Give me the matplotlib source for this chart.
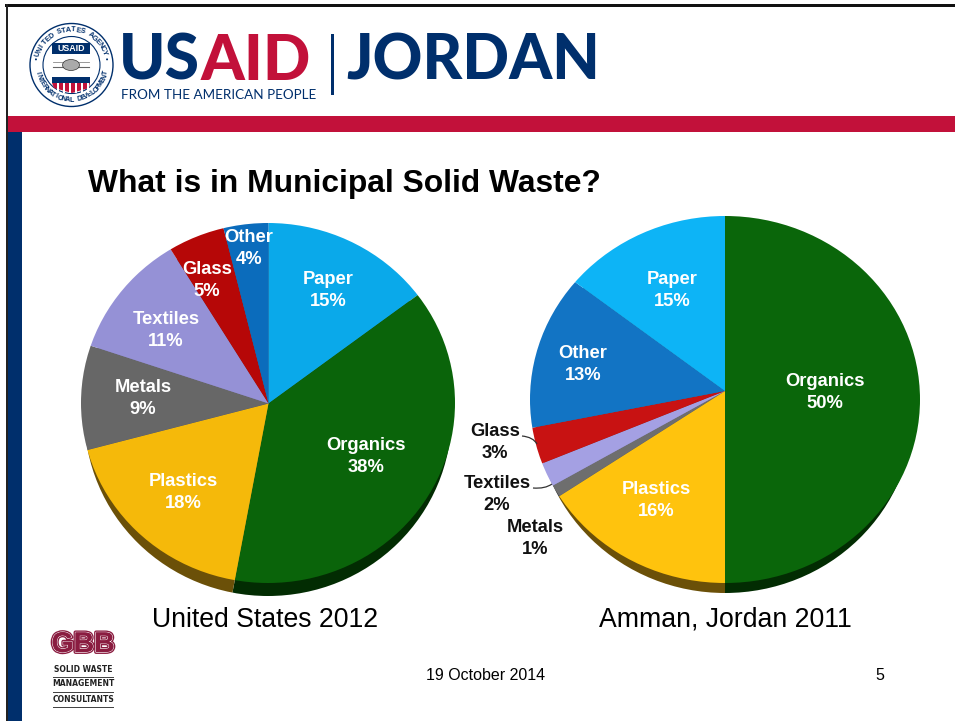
import numpy as np
import matplotlib
matplotlib.use("Agg")
import matplotlib.pyplot as plt
from matplotlib.patches import Rectangle, Circle, Ellipse, Polygon, PathPatch
from matplotlib.path import Path
import matplotlib.patheffects as pe

W, H = 955, 721
NAVY = "#002F6C"; RED = "#C2113A"; MAROON = "#8A1C40"

us_labels = ["Paper", "Organics", "Plastics", "Metals", "Textiles", "Glass", "Other"]
us_values = [15, 38, 18, 9, 11, 5, 4]
us_colors = ["#0AA9EA", "#0A640A", "#F5B90A", "#676767", "#9591D6", "#B60707", "#0B6CBC"]
us_shadow = ["#0A5E80", "#022C02", "#6B5008", "#333333", "#4A4870", "#5C0505", "#0B3B66"]

am_labels = ["Organics", "Plastics", "Metals", "Textiles", "Glass", "Other", "Paper"]
am_values = [50, 16, 1, 2, 3, 13, 15]
am_colors = ["#0A660A", "#FFC30D", "#6E6E6E", "#A4A0E3", "#C81212", "#1274C4", "#0DB4F6"]
am_shadow = ["#022C02", "#6B5008", "#333333", "#4A4870", "#5C0505", "#0B3B66", "#0A5E80"]

fig = plt.figure(figsize=(W/100, H/100), dpi=100, facecolor="white")
ax = fig.add_axes([0, 0, 1, 1])

def Y(y):
    return H - y

def pie_layer(values, colors, apex, xc, yc, rx, ry):
    """A pie seen in slight perspective: true angles round the apex, rim clipped to an ellipse."""
    clip = Ellipse((xc, Y(yc)), 2*rx, 2*ry, facecolor="none", edgecolor="none")
    ax.add_patch(clip)
    wedges, _ = ax.pie(values, colors=colors, startangle=90, counterclock=False,
                       center=(apex[0], Y(apex[1])), radius=rx*1.3, wedgeprops=dict(linewidth=0))
    for w in wedges:
        w.set_clip_on(True)
        w.set_clip_path(clip)

pie_layer(us_values, us_shadow, (268.5, 403.5), 268, 416, 183.6, 180)
pie_layer(us_values, us_colors, (268.5, 403.5), 268, 403, 187, 180)
pie_layer(am_values, am_shadow, (725, 391), 725, 409.5, 189, 183.5)
pie_layer(am_values, am_colors, (725, 391), 725, 399.5, 195, 183.5)

ax.set_xlim(0, W); ax.set_ylim(0, H); ax.set_aspect("auto"); ax.axis("off")

def rect(x0, y0, x1, y1, c, z=5):
    ax.add_patch(Rectangle((x0, Y(y1)), x1-x0, y1-y0, facecolor=c, edgecolor="none", zorder=z))

def txt(x, y, s, size, color="black", weight="normal", family="Liberation Sans", ha="center", va="center", **k):
    yy = y + 2 if va == "center" else y
    return ax.text(x, Y(yy), s, fontsize=size, color=color, fontweight=weight, family=family, ha=ha, va=va, zorder=10, **k)

# frame and bands
rect(5, 4, W, 6.5, "#111111")
rect(5.5, 4, 8, H, "#222222")
rect(8, 116, W, 132, RED)
rect(8, 132, 22, H, NAVY)

# header
txt(119, 80, "US", 45, NAVY, "black", "Lato", ha="left", va="baseline")
txt(201, 80, "AID", 45, RED, "black", "Lato", ha="left", va="baseline")
txt(121, 99, "FROM THE AMERICAN PEOPLE", 9.7, NAVY, "normal", "Lato", ha="left", va="baseline")
rect(331, 34, 333.5, 95, NAVY)
txt(346, 80, "JORDAN", 44.3, NAVY, "black", "Lato", ha="left", va="baseline")

# seal
sx, sy = 71.5, 65
for rad, fc, ec, lw in [(41.5, "white", NAVY, 1.0), (28.5, "white", NAVY, 0.8)]:
    ax.add_patch(Circle((sx, Y(sy)), rad, facecolor=fc, edgecolor=ec, linewidth=lw, zorder=6))

def ring(s, start, stop, rad, size):
    for ch, a in zip(s, np.linspace(start, stop, len(s))):
        t = np.deg2rad(a)
        rot = a - 90 if 0 <= a <= 180 else a + 90
        ax.text(sx + rad*np.cos(t), Y(sy) + rad*np.sin(t), ch, fontsize=size, color=NAVY, fontweight="bold",
                family="Liberation Sans", ha="center", va="center", rotation=rot, zorder=7)

ring("UNITED STATES AGENCY", 162, 20, 35, 5.2)
ring("INTERNATIONAL DEVELOPMENT", 193, 347, 35, 5.0)
for a in (171, 9):
    t = np.deg2rad(a)
    ax.add_patch(Circle((sx + 36*np.cos(t), Y(sy) + 36*np.sin(t)), 1, facecolor=NAVY, edgecolor="none", zorder=7))
rect(52, 43, 90, 54, NAVY, 7)
txt(71, 46.5, "USAID", 6.4, "white", "bold")
ax.plot([53, 89], [Y(67), Y(67)], color="#666666", lw=0.8, zorder=7)
ax.plot([53, 89], [Y(62), Y(62)], color="#888888", lw=0.6, zorder=7)
ax.add_patch(Ellipse((71, Y(65)), 17, 11, facecolor="#AAAAAA", edgecolor="#333333", lw=0.5, zorder=7))
rect(52, 77, 90, 83, NAVY, 7)
ax.add_patch(Polygon([(52, Y(83)), (90, Y(83)), (89, Y(88)), (72, Y(93)), (54, Y(88))], facecolor=RED, edgecolor="none", zorder=7))
for x in np.arange(57, 88, 6):
    rect(x, 83, x+2, 93, "white", 8)

# title and captions
txt(88, 182, "What is in Municipal Solid Waste?", 22.9, "black", "bold", ha="left")
txt(265, 618, "United States 2012", 19.2)
txt(725, 618, "Amman, Jordan 2011", 19.2)
txt(486, 673, "19 October 2014", 11.5)
txt(880, 673, "5", 11.5)

# labels
LBL = 13.2
def label(x, y1, y2, a, b, c="white"):
    txt(x, y1, a, LBL, c, "bold"); txt(x, y2, b, LBL, c, "bold")

for name, val, x, y1, y2 in [("Paper", 15, 328, 278, 300), ("Organics", 38, 366, 444, 466),
                             ("Plastics", 18, 183, 479, 501), ("Metals", 9, 143, 385, 407),
                             ("Textiles", 11, 166, 317, 339), ("Glass", 5, 207, 267, 290),
                             ("Other", 4, 249, 235, 257)]:
    label(x, y1, y2, name, f"{val}%")
for name, val, x, y1, y2, c in [("Paper", 15, 672, 278, 300, "white"), ("Organics", 50, 825, 379, 401, "white"),
                                ("Plastics", 16, 656, 487, 509, "white"), ("Other", 13, 583, 351, 373, "white"),
                                ("Glass", 3, 495, 429, 451, "#111111"), ("Textiles", 2, 497, 482, 504, "#111111"),
                                ("Metals", 1, 535, 525, 547, "#111111")]:
    label(x, y1, y2, name, f"{val}%", c)

# leader lines
for p in [[(522, 436), (533, 437), (537, 444)], [(533, 488), (545, 489), (552, 484)]]:
    ax.add_patch(PathPatch(Path([(x, Y(y)) for x, y in p], [Path.MOVETO, Path.CURVE3, Path.CURVE3]),
                           facecolor="none", edgecolor="#333333", lw=0.9, zorder=9))

# GBB logo
t = txt(83, 643, "GBB", 20.5, MAROON, "bold", "Liberation Sans")
t.set_path_effects([pe.withStroke(linewidth=2.8, foreground=MAROON),
                    pe.withStroke(linewidth=0.9, foreground="white"),
                    pe.Normal()])
for y, s in [(668, "SOLID WASTE"), (682, "MANAGEMENT"), (697, "CONSULTANTS")]:
    txt(83, y, s, 5.5, "#222222", "bold", "DejaVu Sans")
for y in [677, 692, 706.5]:
    rect(53, y, 113.5, y+1, "#444444")

fig.savefig("out.png", dpi=100)
